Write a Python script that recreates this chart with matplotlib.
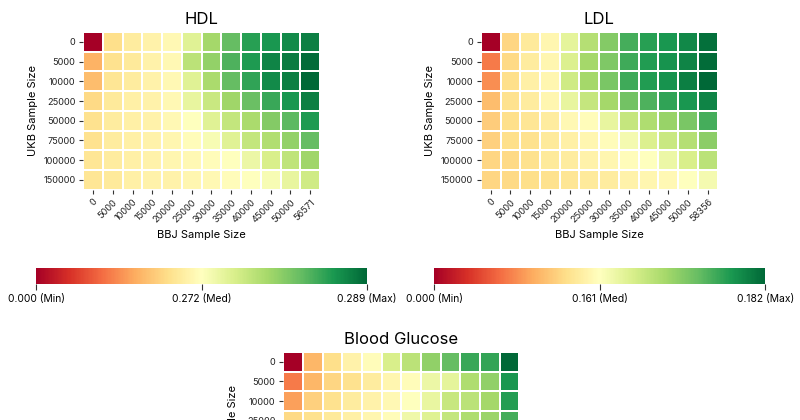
import numpy as np
import matplotlib
matplotlib.use("Agg")
import matplotlib.pyplot as plt
from matplotlib.colors import TwoSlopeNorm
from matplotlib.cm import ScalarMappable

plt.rcParams["font.family"] = ["Inter", "DejaVu Sans"]

# ----------------------------------------------------------
# DATA
# ----------------------------------------------------------
ukb_labels = ["0", "5000", "10000", "25000", "50000", "75000", "100000", "150000"]
bbj_hdl = ["0", "5000", "10000", "15000", "20000", "25000", "30000",
           "35000", "40000", "45000", "50000", "56571"]
bbj_ldl = ["0", "5000", "10000", "15000", "20000", "25000", "30000",
           "35000", "40000", "45000", "50000", "58356"]
bbj_glu = ["0", "5000", "10000", "15000", "20000", "25000", "30000",
           "35000", "40000", "45000", "50000", "57000"]

hdl = [
    [0.0000, 0.2176, 0.2394, 0.2502, 0.2611, 0.2747, 0.2788, 0.2822, 0.2849, 0.2856, 0.2866, 0.2873],
    [0.1686, 0.2230, 0.2339, 0.2502, 0.2611, 0.2774, 0.2798, 0.2832, 0.2853, 0.2870, 0.2876, 0.2887],
    [0.1795, 0.2285, 0.2394, 0.2502, 0.2611, 0.2747, 0.2785, 0.2822, 0.2846, 0.2866, 0.2873, 0.2890],
    [0.2122, 0.2339, 0.2448, 0.2502, 0.2611, 0.2740, 0.2764, 0.2791, 0.2819, 0.2842, 0.2856, 0.2873],
    [0.2230, 0.2394, 0.2448, 0.2502, 0.2611, 0.2720, 0.2747, 0.2768, 0.2785, 0.2805, 0.2825, 0.2853],
    [0.2230, 0.2394, 0.2448, 0.2502, 0.2557, 0.2666, 0.2727, 0.2747, 0.2768, 0.2781, 0.2798, 0.2822],
    [0.2285, 0.2394, 0.2448, 0.2502, 0.2557, 0.2611, 0.2666, 0.2720, 0.2737, 0.2754, 0.2771, 0.2791],
    [0.2285, 0.2339, 0.2448, 0.2502, 0.2502, 0.2557, 0.2611, 0.2666, 0.2720, 0.2727, 0.2740, 0.2761],
]
ldl = [
    [0.0000, 0.1224, 0.1385, 0.1513, 0.1639, 0.1681, 0.1715, 0.1753, 0.1770, 0.1778, 0.1791, 0.1812],
    [0.0708, 0.1256, 0.1417, 0.1513, 0.1648, 0.1694, 0.1719, 0.1757, 0.1774, 0.1782, 0.1795, 0.1816],
    [0.0805, 0.1288, 0.1449, 0.1513, 0.1660, 0.1694, 0.1723, 0.1757, 0.1774, 0.1782, 0.1799, 0.1820],
    [0.1063, 0.1320, 0.1417, 0.1513, 0.1635, 0.1669, 0.1694, 0.1728, 0.1749, 0.1765, 0.1778, 0.1795],
    [0.1159, 0.1288, 0.1352, 0.1417, 0.1546, 0.1578, 0.1635, 0.1669, 0.1686, 0.1702, 0.1723, 0.1753],
    [0.1191, 0.1288, 0.1320, 0.1385, 0.1449, 0.1513, 0.1578, 0.1623, 0.1648, 0.1665, 0.1681, 0.1711],
    [0.1224, 0.1256, 0.1320, 0.1385, 0.1417, 0.1481, 0.1513, 0.1578, 0.1610, 0.1631, 0.1652, 0.1677],
    [0.1224, 0.1256, 0.1288, 0.1320, 0.1352, 0.1385, 0.1417, 0.1481, 0.1513, 0.1546, 0.1610, 0.1623],
]
glucose = [
    [0.0000, 0.0192, 0.0240, 0.0276, 0.0294, 0.0312, 0.0319, 0.0328, 0.0336, 0.0343, 0.0344, 0.0360],
    [0.0132, 0.0192, 0.0228, 0.0246, 0.0264, 0.0282, 0.0294, 0.0306, 0.0308, 0.0322, 0.0328, 0.0348],
    [0.0168, 0.0222, 0.0246, 0.0264, 0.0276, 0.0288, 0.0300, 0.0307, 0.0316, 0.0319, 0.0324, 0.0346],
    [0.0234, 0.0246, 0.0258, 0.0270, 0.0282, 0.0294, 0.0305, 0.0310, 0.0317, 0.0322, 0.0326, 0.0341],
    [0.0240, 0.0252, 0.0264, 0.0276, 0.0288, 0.0300, 0.0303, 0.0307, 0.0312, 0.0317, 0.0321, 0.0334],
    [0.0246, 0.0258, 0.0270, 0.0282, 0.0291, 0.0297, 0.0301, 0.0305, 0.0309, 0.0313, 0.0317, 0.0328],
    [0.0252, 0.0264, 0.0273, 0.0282, 0.0291, 0.0297, 0.0300, 0.0303, 0.0306, 0.0310, 0.0313, 0.0322],
    [0.0258, 0.0267, 0.0276, 0.0285, 0.0291, 0.0294, 0.0297, 0.0300, 0.0303, 0.0306, 0.0309, 0.0316],
]

# min / median / max shown on the colorbars
hdl_stats = [0.000, 0.272, 0.289]
ldl_stats = [0.000, 0.161, 0.182]
glucose_stats = [0.000, 0.030, 0.036]

CMAP = "RdYlGn"
TICK_COLOR = "#333333"


def draw_heatmap(ax, values, xlabels, stats, title):
    norm = TwoSlopeNorm(vmin=stats[0], vcenter=stats[1], vmax=stats[2])
    data = np.array(values)
    ax.pcolormesh(data, cmap=CMAP, norm=norm, edgecolors="white", linewidth=1.1)
    ax.set_xlim(0, data.shape[1])
    ax.set_ylim(data.shape[0], 0)
    ax.set_xticks(np.arange(data.shape[1]) + 0.5)
    ax.set_xticklabels(xlabels, rotation=45, ha="right", rotation_mode="anchor", fontsize=6.6)
    ax.set_yticks(np.arange(data.shape[0]) + 0.5)
    ax.set_yticklabels(ukb_labels, fontsize=6.6)
    ax.tick_params(length=3, width=0.8, color=TICK_COLOR, labelcolor="#222222", pad=2.5)
    for s in ax.spines.values():
        s.set_visible(False)
    ax.set_xlabel("BBJ Sample Size", fontsize=8, labelpad=4)
    ax.set_ylabel("UKB Sample Size", fontsize=8, labelpad=4)
    ax.set_title(title, fontsize=12, pad=6)
    return norm


def draw_colorbar(cax, norm, stats):
    sm = ScalarMappable(norm=norm, cmap=CMAP)
    cb = plt.colorbar(sm, cax=cax, orientation="horizontal")
    cb.outline.set_visible(False)
    cb.set_ticks(stats)
    cb.set_ticklabels([f"{stats[0]:.3f} (Min)", f"{stats[1]:.3f} (Med)", f"{stats[2]:.3f} (Max)"])
    cb.ax.tick_params(length=4, width=0.8, color=TICK_COLOR, labelsize=7.4, pad=3)
    cb.ax.minorticks_off()


fig = plt.figure(figsize=(8, 4.2), dpi=100)

ax_hdl = fig.add_axes([0.104, 0.548, 0.296, 0.376])
ax_ldl = fig.add_axes([0.601, 0.548, 0.296, 0.376])
ax_glu = fig.add_axes([0.354, -0.212, 0.295, 0.374])

norm_hdl = draw_heatmap(ax_hdl, hdl, bbj_hdl, hdl_stats, "HDL")
norm_ldl = draw_heatmap(ax_ldl, ldl, bbj_ldl, ldl_stats, "LDL")
draw_heatmap(ax_glu, glucose, bbj_glu, glucose_stats, "Blood Glucose")

cax_hdl = fig.add_axes([0.045, 0.324, 0.414, 0.038])
cax_ldl = fig.add_axes([0.5425, 0.324, 0.414, 0.038])
draw_colorbar(cax_hdl, norm_hdl, hdl_stats)
draw_colorbar(cax_ldl, norm_ldl, ldl_stats)

fig.savefig("out.png", dpi=100)
